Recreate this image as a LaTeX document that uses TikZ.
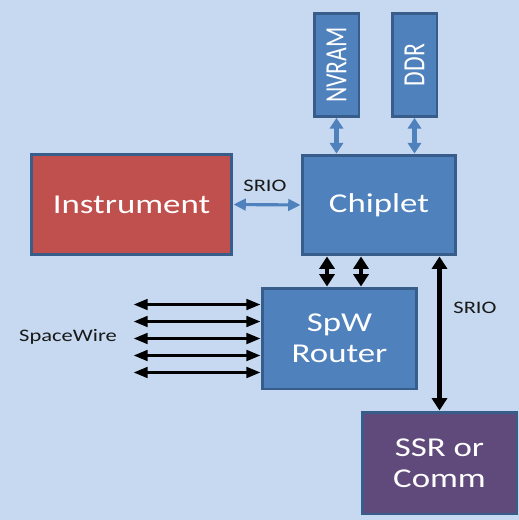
\documentclass[tikz,border=0pt]{standalone}
\usepackage{fontspec}
\usepackage{graphicx}
\setmainfont[FakeStretch=1.28]{Carlito}
\newfontfamily\plainfont{Carlito}
\usetikzlibrary{arrows.meta, positioning}

\definecolor{bgblue}{HTML}{C6D9F1}
\definecolor{boxblue}{HTML}{4F81BD}
\definecolor{edgeblue}{HTML}{385D8A}
\definecolor{instred}{HTML}{C0504D}
\definecolor{ssrpurple}{HTML}{604A7B}

\tikzset{
  block/.style={draw=edgeblue, line width=1.7pt, fill=boxblue, text=white,
    font=\fontsize{15.5}{17.5}\selectfont, align=center, inner sep=0pt},
  memblock/.style={block, minimum width=0.9cm, minimum height=2.06cm,
    font=\plainfont\fontsize{13.5}{15}\selectfont},
  lbl/.style={font=\fontsize{10}{12}\selectfont, text=black!90},
  memlink/.style={{Triangle[width=7.5pt,length=6pt]}-{Triangle[width=7.5pt,length=6pt]},
    line width=2.5pt, draw=boxblue},
  instlink/.style={{Triangle[width=6.5pt,length=7pt]}-{Triangle[width=6.5pt,length=7pt]},
    line width=1.8pt, draw=boxblue},
  buslink/.style={{Triangle[width=8.5pt,length=7pt]}-{Triangle[width=8.5pt,length=7pt]},
    line width=2.8pt, draw=black},
  swlink/.style={{Triangle[width=6pt,length=8pt]}-{Triangle[width=6pt,length=8pt]},
    line width=1.7pt, draw=black}
}

\begin{document}
\begin{tikzpicture}[x=0.02cm, y=-0.02cm]
    % background
    \fill[bgblue] (0,0) rectangle (519,520);

    % blocks
    \node (nvram) [memblock] at (336.5,65) {\scalebox{1.3}[1]{\rotatebox{90}{NVRAM}}};
    \node (ddr) [memblock] at (414.5,65) {\scalebox{1.3}[1]{\rotatebox{90}{DDR}}};
    \node (chiplet) [block, minimum width=3.08cm, minimum height=2cm] at (379,205) {Chiplet};
    \node (instr) [block, fill=instred, minimum width=4.02cm, minimum height=2.02cm] at (131.5,204.5) {Instrument};
    \node (spw) [block, minimum width=3.1cm, minimum height=2.02cm] at (339.5,338.5) {SpW\\Router};
    \node (ssr) [block, fill=ssrpurple, minimum width=3.1cm, minimum height=2.04cm] at (439.5,463) {SSR or\\Comm};

    % labels
    \node (srioleft) [lbl] at (265,186) {SRIO};
    \node (srioright) [lbl] at (475,308) {SRIO};
    \node (swlabel) [lbl] at (68,337) {SpaceWire};

    % links
    \draw[memlink] (nvram.south) -- (nvram.south |- chiplet.north);
    \draw[memlink] (ddr.south) -- (ddr.south |- chiplet.north);
    \draw[instlink] (instr.east) -- (chiplet.west);
    \coordinate (busa) at ([xshift=-1.04cm]chiplet.south);
    \coordinate (busb) at ([xshift=-0.36cm]chiplet.south);
    \draw[buslink] (busa) -- (busa |- spw.north);
    \draw[buslink] (busb) -- (busb |- spw.north);
    \draw[buslink] (ssr.north) -- (ssr.north |- chiplet.south);
    \foreach \k in {2,1,0,-1,-2} {
        \coordinate (swend) at ([xshift=-2.54cm, yshift=\k*0.34cm]spw.west);
        \draw[swlink] (swend) -- (swend -| spw.west);
    }
\end{tikzpicture}
\end{document}
